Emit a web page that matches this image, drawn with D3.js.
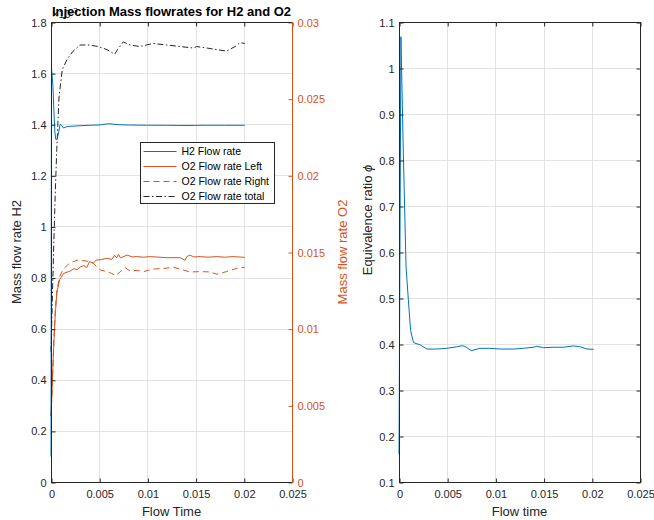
<!DOCTYPE html>
<html>
<head>
<meta charset="utf-8">
<script src="https://cdn.jsdelivr.net/npm/d3@7"></script>
<style>
  body { margin: 0; background: #fff; }
  svg text { font-family: "Liberation Sans", Arial, sans-serif; }
</style>
</head>
<body>
<svg id="chart" width="654" height="520"></svg>
<script>
// values, [flow time, value]
const h2Flow = [
  [0, 0.10e-3], [0.00005, 1.62e-3], [0.0002, 1.55e-3], [0.0003, 1.45e-3], [0.0004, 1.37e-3],
  [0.0005, 1.34e-3], [0.0006, 1.34e-3], [0.0007, 1.35e-3], [0.0008, 1.37e-3], [0.00095, 1.40e-3],
  [0.0011, 1.395e-3], [0.0013, 1.385e-3], [0.0016, 1.39e-3], [0.002, 1.392e-3], [0.003, 1.394e-3],
  [0.004, 1.396e-3], [0.005, 1.397e-3], [0.006, 1.402e-3], [0.007, 1.398e-3], [0.008, 1.397e-3],
  [0.010, 1.396e-3], [0.012, 1.396e-3], [0.014, 1.395e-3], [0.016, 1.396e-3], [0.018, 1.396e-3],
  [0.0201, 1.396e-3]
]
const o2Left = [
  [0, 0.0043], [0.0001, 0.0058], [0.0003, 0.0092], [0.00045, 0.011], [0.0006, 0.0123],
  [0.0009, 0.0132], [0.0013, 0.0136], [0.002, 0.01376], [0.0024, 0.01392], [0.0027, 0.01384],
  [0.0031, 0.01405], [0.0034, 0.01411], [0.0037, 0.01398], [0.004, 0.01437], [0.0044, 0.01428],
  [0.0047, 0.01448], [0.0052, 0.0145], [0.0058, 0.01459], [0.0063, 0.01452], [0.0066, 0.01478],
  [0.0068, 0.01462], [0.007, 0.01485], [0.0072, 0.01462], [0.0076, 0.01472], [0.0079, 0.0148],
  [0.0084, 0.01468], [0.0089, 0.0147], [0.0096, 0.01466], [0.0103, 0.0147], [0.012, 0.01463],
  [0.0134, 0.01463], [0.0139, 0.01446], [0.0141, 0.0147], [0.0144, 0.0148], [0.0148, 0.01468],
  [0.0155, 0.0147], [0.0163, 0.01466], [0.0172, 0.0147], [0.018, 0.01466], [0.0189, 0.0147],
  [0.0201, 0.01465]
]
const o2Right = [
  [0, 0.0043], [0.0001, 0.0058], [0.0003, 0.0093], [0.00045, 0.0112], [0.0006, 0.0125],
  [0.0009, 0.0134], [0.0013, 0.0139], [0.0018, 0.0142], [0.0023, 0.01437], [0.0028, 0.01448],
  [0.0037, 0.01441], [0.0044, 0.01426], [0.0051, 0.01383], [0.0058, 0.01372], [0.0063, 0.0136],
  [0.0067, 0.01346], [0.0072, 0.01372], [0.0077, 0.01398], [0.0082, 0.01376], [0.0089, 0.0138],
  [0.0096, 0.01372], [0.0106, 0.01389], [0.0117, 0.01393], [0.0127, 0.014], [0.0137, 0.01383],
  [0.0144, 0.0137], [0.0155, 0.01372], [0.0165, 0.0137], [0.0172, 0.01355], [0.0182, 0.01372],
  [0.0193, 0.01394], [0.0201, 0.014]
]
const o2Total = [
  [0, 0.0085], [0.00013, 0.0117], [0.0003, 0.0158], [0.00045, 0.019], [0.0006, 0.0217],
  [0.00083, 0.0251], [0.00117, 0.0269], [0.0017, 0.0276], [0.0023, 0.0281], [0.003, 0.0285],
  [0.004, 0.0285], [0.0049, 0.0284], [0.0058, 0.0282], [0.0066, 0.0279], [0.0069, 0.0282],
  [0.0075, 0.0287], [0.0082, 0.0285], [0.0092, 0.0284], [0.0106, 0.0286], [0.012, 0.0285],
  [0.0134, 0.0284], [0.0148, 0.0283], [0.0151, 0.0284], [0.0162, 0.0283], [0.0172, 0.0282],
  [0.0182, 0.0281], [0.0191, 0.0284], [0.0196, 0.02865], [0.0201, 0.0286]
]
const phi = [
  [0, 0.16], [0.0002, 1.068], [0.00045, 0.815], [0.00073, 0.568], [0.00097, 0.496],
  [0.0012, 0.43], [0.0015, 0.403], [0.0022, 0.398], [0.0029, 0.389], [0.0039, 0.389],
  [0.0049, 0.3905], [0.006, 0.394], [0.0066, 0.3963], [0.0069, 0.394], [0.0075, 0.3855],
  [0.0084, 0.3906], [0.0094, 0.3906], [0.0105, 0.389], [0.0119, 0.389], [0.0129, 0.3906],
  [0.0139, 0.3928], [0.0143, 0.395], [0.015, 0.392], [0.016, 0.393], [0.017, 0.393],
  [0.0181, 0.3957], [0.0188, 0.394], [0.0195, 0.389], [0.0202, 0.3885]
]

const timeTicks = [0, 0.005, 0.01, 0.015, 0.02, 0.025]
const h2Ticks = [0, 0.2e-3, 0.4e-3, 0.6e-3, 0.8e-3, 1e-3, 1.2e-3, 1.4e-3, 1.6e-3, 1.8e-3]
const o2Ticks = [0, 0.005, 0.01, 0.015, 0.02, 0.025, 0.03]
const phiTicks = [0.1, 0.2, 0.3, 0.4, 0.5, 0.6, 0.7, 0.8, 0.9, 1, 1.1]

const legendLabels = ["H2 Flow rate", "O2 Flow rate Left", "O2 Flow rate Right", "O2 Flow rate total"]

const blue = "#0072BD"
const orange = "#D95319"
const ink = "#262626"
const gridColor = "#e3e3e3"

const svg = d3.select("#chart")
const yTop = 22, yBottom = 482

const xL = d3.scaleLinear().domain([0, 0.025]).range([51, 292])
const yH2 = d3.scaleLinear().domain([0, 1.8e-3]).range([yBottom, yTop])
const yO2 = d3.scaleLinear().domain([0, 0.03]).range([yBottom, yTop])
const xR = d3.scaleLinear().domain([0, 0.025]).range([399, 640])
const yPhi = d3.scaleLinear().domain([0.1, 1.1]).range([yBottom, yTop])

const fmt = d => String(+d.toPrecision(6))

// grid
const grid = (x, y, xt, yt) => {
  const g = svg.append("g").attr("stroke", gridColor).attr("stroke-width", 1)
  g.selectAll(".gx").data(xt.slice(1, -1)).join("line")
    .attr("x1", d => Math.round(x(d)) + 0.5).attr("x2", d => Math.round(x(d)) + 0.5)
    .attr("y1", yTop).attr("y2", yBottom)
  g.selectAll(".gy").data(yt.slice(1, -1)).join("line")
    .attr("y1", d => Math.round(y(d)) + 0.5).attr("y2", d => Math.round(y(d)) + 0.5)
    .attr("x1", x.range()[0]).attr("x2", x.range()[1])
}
grid(xL, yH2, timeTicks, h2Ticks)
grid(xR, yPhi, timeTicks, phiTicks)

// lines
const lineOf = (x, y) => d3.line().x(d => x(d[0])).y(d => y(d[1]))
const drawLine = (data, x, y, color, dash) =>
  svg.append("path")
    .datum(data)
    .attr("fill", "none")
    .attr("stroke", color)
    .attr("stroke-width", 1)
    .attr("stroke-dasharray", dash)
    .attr("d", lineOf(x, y))

drawLine(o2Total, xL, yO2, ink, "6,2.5,1.5,2.5")
drawLine(o2Right, xL, yO2, orange, "6,4")
drawLine(o2Left, xL, yO2, orange, null)
drawLine(h2Flow, xL, yH2, blue, null)
drawLine(phi, xR, yPhi, blue, null)

// axes
const styleAxis = (g, color) => {
  g.select(".domain").remove()
  g.selectAll(".tick line").attr("stroke", color)
  g.selectAll(".tick text").attr("fill", color).style("font-size", "11px")
}

const frame = (x, rightColor) => {
  const [x0, x1] = x.range()
  svg.append("line").attr("x1", x0).attr("x2", x1).attr("y1", yTop + 0.5).attr("y2", yTop + 0.5).attr("stroke", ink)
  svg.append("line").attr("x1", x0).attr("x2", x1).attr("y1", yBottom + 0.5).attr("y2", yBottom + 0.5).attr("stroke", ink)
  svg.append("line").attr("x1", x0 + 0.5).attr("x2", x0 + 0.5).attr("y1", yTop).attr("y2", yBottom + 1).attr("stroke", ink)
  svg.append("line").attr("x1", x1 + 0.5).attr("x2", x1 + 0.5).attr("y1", yTop).attr("y2", yBottom + 1).attr("stroke", rightColor)
}

const xAxes = x => {
  svg.append("g")
    .attr("transform", `translate(0.5,${yBottom + 0.5})`)
    .call(d3.axisBottom(x).tickValues(timeTicks).tickFormat(fmt).tickSizeInner(-4).tickSizeOuter(0).tickPadding(8))
    .call(g => styleAxis(g, ink))
  svg.append("g")
    .attr("transform", `translate(0.5,${yTop + 0.5})`)
    .call(d3.axisTop(x).tickValues(timeTicks).tickFormat("").tickSizeInner(-4).tickSizeOuter(0))
    .call(g => styleAxis(g, ink))
}

xAxes(xL)
xAxes(xR)

svg.append("g")
  .attr("transform", `translate(${xL.range()[0] + 0.5},0.5)`)
  .call(d3.axisLeft(yH2).tickValues(h2Ticks).tickFormat(d => fmt(d / 1e-3)).tickSizeInner(-4).tickSizeOuter(0).tickPadding(5))
  .call(g => styleAxis(g, ink))

svg.append("g")
  .attr("transform", `translate(${xL.range()[1] + 0.5},0.5)`)
  .call(d3.axisRight(yO2).tickValues(o2Ticks).tickFormat(fmt).tickSizeInner(-4).tickSizeOuter(0).tickPadding(5))
  .call(g => styleAxis(g, orange))

svg.append("g")
  .attr("transform", `translate(${xR.range()[0] + 0.5},0.5)`)
  .call(d3.axisLeft(yPhi).tickValues(phiTicks).tickFormat(fmt).tickSizeInner(-4).tickSizeOuter(0).tickPadding(5))
  .call(g => styleAxis(g, ink))

svg.append("g")
  .attr("transform", `translate(${xR.range()[1] + 0.5},0.5)`)
  .call(d3.axisRight(yPhi).tickValues(phiTicks).tickFormat("").tickSizeInner(-4).tickSizeOuter(0))
  .call(g => styleAxis(g, ink))

frame(xL, orange)
frame(xR, ink)

// labels
const label = (text, x, y, color, rotate) =>
  svg.append("text")
    .attr("transform", `translate(${x},${y})` + (rotate ? " rotate(-90)" : ""))
    .attr("text-anchor", "middle")
    .attr("fill", color)
    .style("font-size", "13px")
    .text(text)

label("Flow Time", 171.5, 516, ink, false)
label("Flow time", 519.5, 516, ink, false)
label("Mass flow rate H2", 21, 252, ink, true)
label("Mass flow rate O2", 347, 252, orange, true)
label("Equivalence ratio ", 372, 220, ink, true)
  .append("tspan").style("font-style", "italic").text("ϕ")

// exponent sits under the title, as in the figure
const expo = svg.append("text").attr("x", 52).attr("y", 18).attr("fill", ink).style("font-size", "11px")
expo.append("tspan").text("×10")
expo.append("tspan").attr("dy", -5).style("font-size", "8px").text("-3")

svg.append("text")
  .attr("x", 171.5).attr("y", 16)
  .attr("text-anchor", "middle")
  .attr("fill", "#000")
  .style("font-size", "13px")
  .style("font-weight", "bold")
  .text("Injection Mass flowrates for H2 and O2")

// legend
const legendStyles = [
  { color: blue, dash: null },
  { color: orange, dash: null },
  { color: orange, dash: "6,4" },
  { color: ink, dash: "6,2.5,1.5,2.5" }
]
const legend = svg.append("g").attr("transform", "translate(140.5,142.5)")
legend.append("rect").attr("width", 134).attr("height", 61).attr("fill", "#fff").attr("stroke", ink)
const rows = legend.selectAll(".row").data(legendLabels).join("g")
  .attr("transform", (d, i) => `translate(0,${9 + i * 15})`)
rows.append("line")
  .attr("x1", 3).attr("x2", 36)
  .attr("stroke", (d, i) => legendStyles[i].color)
  .attr("stroke-dasharray", (d, i) => legendStyles[i].dash)
rows.append("text")
  .attr("x", 41).attr("dy", "0.35em")
  .attr("fill", "#000")
  .style("font-size", "10.5px")
  .text(d => d)
</script>
</body>
</html>
